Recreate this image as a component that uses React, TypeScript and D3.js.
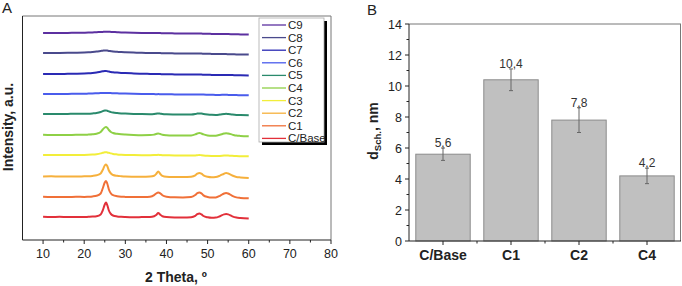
import React from "react";
import * as d3 from "d3";

// ---------- Panel A data (XRD patterns) ----------
const twoTheta = [10,12,14,16,18,20,21,22,23,24,24.5,25,25.3,25.6,26,26.5,27,28,29,30,32,34,36,37,37.5,38,38.5,39,40,42,44,46,47,47.5,48,48.5,49,50,51,52,53,54,54.5,55,56,57,58,60];

const seriesNames = ["C/Base","C1","C2","C3","C4","C5","C6","C7","C8","C9"];
const seriesColors = ["#e2303a","#f07038","#f6b03c","#f2ee3a","#8ed046","#2a8a6c","#4a5cec","#2a2ab4","#4a4a8c","#5c30a0"];
const stackOffsets = [23, 43, 63.5, 85, 105, 126, 146, 166, 187, 207];

const iBase = [0.3,0.0,0.2,-0.1,0.1,0.0,0.2,0.4,0.8,2.5,6.5,12.5,14.5,12.0,6.5,3.0,1.5,0.6,0.2,0.0,-0.2,-0.1,0.0,0.8,2.0,4.0,2.2,0.8,0.0,-0.4,-0.5,-0.2,1.2,2.8,3.5,2.6,1.0,-0.3,-0.8,-0.6,0.8,2.6,3.0,2.6,0.6,-0.6,-1.0,-1.5];
const iC1 = [0.2,0.0,0.1,0.0,0.2,0.1,0.3,0.6,1.2,3.5,8.5,14.5,16.0,13.5,7.5,3.5,1.8,0.8,0.3,0.1,-0.1,0.0,0.3,1.8,3.5,4.5,3.6,1.8,0.3,-0.3,-0.4,0.0,2.0,3.8,4.5,3.6,1.6,0.0,-0.6,-0.4,1.2,3.5,4.0,3.5,1.2,-0.4,-0.9,-1.3];
const iC2 = [0.0,0.2,0.0,0.1,0.0,0.2,0.3,0.6,1.2,3.0,6.5,11.0,12.0,10.5,6.0,3.0,1.5,0.7,0.3,0.0,-0.2,-0.3,0.0,0.8,2.5,5.0,2.5,0.7,-0.2,-0.5,-0.6,-0.2,1.2,2.8,3.5,2.8,1.2,-0.3,-0.8,-0.6,0.8,2.8,3.5,3.0,1.0,-0.5,-0.9,-1.4];
const iC3 = [0.0,0.1,-0.1,0.0,0.1,0.1,0.2,0.4,0.8,1.6,2.2,2.7,2.8,2.6,2.2,1.6,1.1,0.6,0.3,0.1,-0.1,-0.2,-0.2,-0.1,0.0,0.2,0.0,-0.2,-0.3,-0.5,-0.6,-0.6,-0.4,-0.2,0.0,-0.2,-0.4,-0.7,-0.9,-1.0,-0.9,-0.6,-0.5,-0.6,-0.8,-1.1,-1.2,-1.3];
const iC4 = [0.2,0.0,0.1,0.0,0.2,0.2,0.4,0.7,1.3,3.0,5.5,7.5,8.0,7.2,5.0,3.0,2.0,1.2,0.7,0.4,0.0,-0.2,-0.1,0.4,1.0,1.5,1.0,0.3,-0.2,-0.5,-0.6,-0.4,0.6,1.5,2.0,1.5,0.6,-0.4,-0.8,-0.7,0.2,1.4,1.8,1.5,0.4,-0.6,-0.9,-1.2];
const iC5 = [0.0,0.1,0.0,0.1,0.2,0.2,0.3,0.6,1.0,2.0,2.9,3.5,3.6,3.3,2.6,1.9,1.4,0.9,0.6,0.4,0.1,-0.1,-0.2,0.0,0.3,0.6,0.3,0.0,-0.3,-0.5,-0.6,-0.6,-0.1,0.4,0.6,0.4,0.0,-0.5,-0.8,-0.9,-0.5,0.0,0.2,0.0,-0.5,-0.9,-1.1,-1.3];
const iC6 = [0.0,0.1,0.0,0.1,0.2,0.3,0.4,0.5,0.7,0.9,1.0,1.1,1.1,1.0,1.0,0.9,0.8,0.7,0.5,0.4,0.2,0.0,-0.1,-0.1,-0.2,-0.1,-0.2,-0.3,-0.3,-0.4,-0.5,-0.6,-0.6,-0.5,-0.4,-0.5,-0.6,-0.7,-0.8,-0.9,-0.9,-0.8,-0.8,-0.9,-1.0,-1.1,-1.2,-1.3];
const iC7 = [0.0,0.1,0.0,0.2,0.3,0.5,0.7,1.0,1.5,2.3,2.7,3.0,3.0,2.8,2.5,2.1,1.8,1.4,1.1,0.9,0.6,0.3,0.1,0.0,-0.1,0.0,-0.1,-0.2,-0.3,-0.4,-0.5,-0.6,-0.6,-0.5,-0.5,-0.6,-0.7,-0.8,-0.9,-1.0,-1.0,-0.9,-0.9,-1.0,-1.1,-1.2,-1.3,-1.4];
const iC8 = [0.1,0.0,0.1,0.2,0.3,0.5,0.7,1.0,1.4,2.0,2.3,2.6,2.6,2.4,2.1,1.8,1.5,1.2,0.9,0.7,0.4,0.2,0.0,-0.1,-0.1,0.0,-0.1,-0.2,-0.3,-0.4,-0.5,-0.6,-0.6,-0.5,-0.5,-0.6,-0.7,-0.8,-0.9,-1.0,-1.1,-1.1,-1.1,-1.2,-1.3,-1.4,-1.5,-1.6];
const iC9 = [0.0,0.1,0.0,0.1,0.2,0.3,0.4,0.6,0.8,1.0,1.1,1.3,1.3,1.2,1.2,1.1,1.0,0.8,0.6,0.5,0.3,0.1,0.0,-0.1,-0.1,0.0,-0.1,-0.2,-0.3,-0.4,-0.5,-0.6,-0.6,-0.6,-0.5,-0.6,-0.7,-0.8,-0.9,-1.0,-1.0,-1.0,-1.0,-1.1,-1.2,-1.3,-1.4,-1.5];
const intensities = [iBase, iC1, iC2, iC3, iC4, iC5, iC6, iC7, iC8, iC9];

const xTicksA = [10,20,30,40,50,60,70,80];
const xMinorA = [15,25,35,45,55,65,75];

// ---------- Panel B data ----------
const samples = ["C/Base","C1","C2","C4"];
const dSch = [5.6, 10.4, 7.8, 4.2];
const dErr = [0.4, 0.7, 0.8, 0.5];
const dLabels = ["5,6","10,4","7,8","4,2"];
const yTicksB = [0,2,4,6,8,10,12,14];
const yMinorB = [1,3,5,7,9,11,13];

const FONT = "Arial, 'Liberation Sans', sans-serif";

export default function App() {
  // Panel A scales
  const xA = d3.scaleLinear().domain([5, 80]).range([22.5, 331]);
  const yA = d3.scaleLinear().domain([0, 224]).range([240, 16]);
  const line = d3.line<[number, number]>().x(d => xA(d[0])).y(d => yA(d[1])).curve(d3.curveMonotoneX);

  // Panel B scales
  const xB = d3.scaleBand<string>().domain(samples).range([409, 681]).paddingInner(0.2).paddingOuter(0.1);
  const yB = d3.scaleLinear().domain([0, 14]).range([241, 24]);
  const step = xB.step();

  const legX = 259, legY = 18, legW = 65, legH = 124;

  return (
    <svg width={682} height={286} style={{ position: "absolute", left: 0, top: 0, background: "#fff" }} fontFamily={FONT}>
      <rect x={0} y={0} width={682} height={286} fill="#fff" />
      {/* ---------- Panel A ---------- */}
      <text x={2} y={13} fontSize={15} fill="#222">A</text>
      {/* frame */}
      <line x1={22.5} x2={331} y1={16} y2={16} stroke="#777" strokeWidth={1} />
      <line x1={331} x2={331} y1={16} y2={240} stroke="#777" strokeWidth={1} />
      <line x1={22.5} x2={22.5} y1={16} y2={240} stroke="#222" strokeWidth={1} />
      <line x1={22.5} x2={331} y1={240} y2={240} stroke="#222" strokeWidth={1} />
      {xTicksA.map(t => (
        <g key={"xa" + t}>
          <line x1={xA(t)} x2={xA(t)} y1={240} y2={244} stroke="#222" />
          <text x={xA(t)} y={258} fontSize={12.5} textAnchor="middle" fill="#222">{t}</text>
        </g>
      ))}
      {xMinorA.map(t => (
        <line key={"xam" + t} x1={xA(t)} x2={xA(t)} y1={240} y2={242.5} stroke="#222" />
      ))}
      {intensities.map((vals, i) => (
        <path key={"s" + i}
          d={line(twoTheta.map((t, j) => [t, vals[j] + stackOffsets[i]] as [number, number])) || ""}
          fill="none" stroke={seriesColors[i]} strokeWidth={2} strokeLinejoin="round" />
      ))}
      <text x={176} y={282} fontSize={14} fontWeight="bold" textAnchor="middle" fill="#222">2 Theta, º</text>
      <text transform="translate(13,127) rotate(-90)" fontSize={14} fontWeight="bold" textAnchor="middle" fill="#222">Intensity, a.u.</text>
      {/* legend */}
      <rect x={legX + 3} y={legY + 3} width={legW} height={legH} fill="#000" />
      <rect x={legX} y={legY} width={legW} height={legH} fill="#fff" stroke="#aaa" strokeWidth={0.8} />
      {seriesNames.map((n, k) => {
        const i = seriesNames.length - 1 - k;
        const cy = legY + 7 + k * 12.6;
        return (
          <g key={"lg" + i}>
            <line x1={legX + 3} x2={legX + 27} y1={cy} y2={cy} stroke={seriesColors[i]} strokeWidth={1.3} />
            <text x={legX + 29} y={cy + 4} fontSize={11.5} fill="#222">{seriesNames[i]}</text>
          </g>
        );
      })}

      {/* ---------- Panel B ---------- */}
      <text x={367} y={15} fontSize={15} fill="#222">B</text>
      {samples.map((s, i) => {
        const x0 = xB(s)!;
        const cx = x0 + xB.bandwidth() / 2;
        return (
          <g key={"bar" + s}>
            <rect x={x0} y={yB(dSch[i])} width={xB.bandwidth()} height={yB(0) - yB(dSch[i])} fill="#c0c0c0" stroke="#8a8a8a" strokeWidth={1} />
            <line x1={cx} x2={cx} y1={yB(dSch[i] + dErr[i])} y2={yB(dSch[i] - dErr[i])} stroke="#666" strokeWidth={1} />
            <line x1={cx - 2} x2={cx + 2} y1={yB(dSch[i] + dErr[i])} y2={yB(dSch[i] + dErr[i])} stroke="#666" strokeWidth={1} />
            <line x1={cx - 2} x2={cx + 2} y1={yB(dSch[i] - dErr[i])} y2={yB(dSch[i] - dErr[i])} stroke="#666" strokeWidth={1} />
            <text x={cx} y={yB(dSch[i] + dErr[i]) - 1} fontSize={12} textAnchor="middle" fill="#333">{dLabels[i]}</text>
            <line x1={cx} x2={cx} y1={241} y2={245} stroke="#222" />
            <text x={cx} y={260} fontSize={14} fontWeight="bold" textAnchor="middle" fill="#222">{s}</text>
            {i < samples.length - 1 && (
              <line x1={cx + step / 2} x2={cx + step / 2} y1={241} y2={243.5} stroke="#222" />
            )}
          </g>
        );
      })}
      <line x1={409} x2={681} y1={24} y2={24} stroke="#777" />
      <line x1={680.5} x2={680.5} y1={24} y2={241} stroke="#777" />
      <line x1={409} x2={409} y1={24} y2={241} stroke="#222" />
      <line x1={409} x2={681} y1={241} y2={241} stroke="#222" />
      {yTicksB.map(t => (
        <g key={"yb" + t}>
          <line x1={405} x2={409} y1={yB(t)} y2={yB(t)} stroke="#222" />
          <text x={402} y={yB(t) + 4.5} fontSize={12.5} textAnchor="end" fill="#222">{t}</text>
        </g>
      ))}
      {yMinorB.map(t => (
        <line key={"ybm" + t} x1={406.5} x2={409} y1={yB(t)} y2={yB(t)} stroke="#222" />
      ))}
      <text transform="translate(378,131) rotate(-90)" fontSize={14} fontWeight="bold" textAnchor="middle" fill="#222">
        d<tspan fontSize={9.5} dy={3}>Sch.</tspan><tspan dy={-3}>, nm</tspan>
      </text>
    </svg>
  );
}
